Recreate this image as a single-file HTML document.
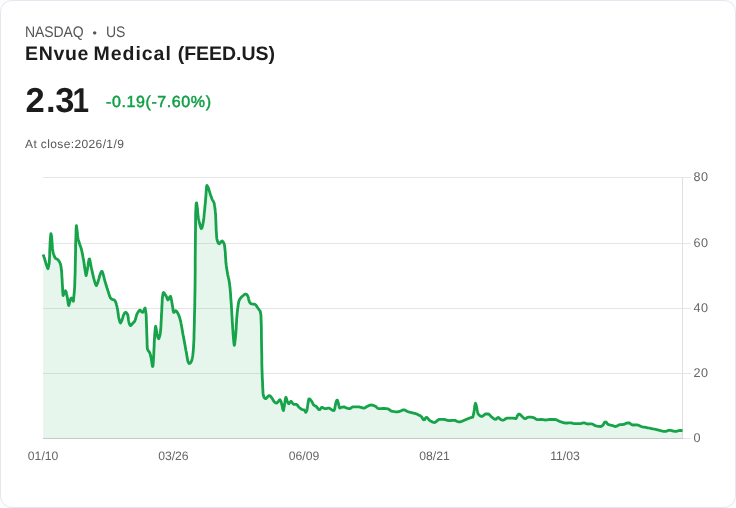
<!DOCTYPE html>
<html>
<head>
<meta charset="utf-8">
<title>ENvue Medical (FEED.US)</title>
<style>
html,body{margin:0;padding:0;background:#fcfcfc;}
body{width:736px;height:508px;overflow:hidden;font-family:"Liberation Sans",sans-serif;position:relative;}
.card{position:absolute;left:0;top:0;width:734px;height:506px;border:1px solid #e2e7f0;border-radius:12px;background:#fff;}
.t{position:absolute;white-space:nowrap;line-height:1;text-rendering:geometricPrecision;}
#exch{left:25px;top:24px;font-size:14px;letter-spacing:-0.1px;color:#555;transform:scaleY(1.09);transform-origin:0 0;}
#dot{position:absolute;left:67.6px;top:2px;font-size:12.5px;letter-spacing:0;transform:scaleY(0.92);}
#us{position:absolute;left:80.9px;top:0;letter-spacing:0px;}
#name{left:25px;top:44.8px;font-size:19.5px;letter-spacing:0.4px;font-weight:bold;color:#1c1c1e;}
#price{left:24.7px;top:84.2px;font-size:34.6px;letter-spacing:-1.1px;font-weight:bold;color:#1c1c1e;}
#n1{letter-spacing:0.65px;}#n1b{letter-spacing:0.95px;margin-left:-1.2px;}#n2{letter-spacing:-0.05px;margin-left:0.2px;}
#price span{position:relative;display:inline-block;}
#p1{left:0.9px;}#p2{left:3.1px;}#p3{left:3.9px;}#p4{left:0.5px;transform:scaleX(0.86);transform-origin:100% 50%;}
#chg{left:106px;top:95px;font-size:16px;letter-spacing:0.6px;color:#12a046;-webkit-text-stroke:0.5px #12a046;}
#close{left:25px;top:137.7px;font-size:12px;letter-spacing:0.38px;color:#555;}
svg{position:absolute;left:0;top:0;}
svg text{text-rendering:geometricPrecision;font-family:"Liberation Sans",sans-serif;fill:#666;}
#ylab text{font-size:12.6px;}
#xlab text{font-size:12.2px;}
</style>
</head>
<body>
<div class="card"></div>
<div class="t" id="exch"><span id="nq">NASDAQ</span> <span id="dot">•</span> <span id="us">US</span></div>
<div class="t" id="name"><span id="n1">ENvue</span> <span id="n1b">Medical</span> <span id="n2">(FEED.US)</span></div>
<div class="t" id="price"><span id="p1">2</span><span id="p2">.</span><span id="p3">3</span><span id="p4">1</span></div>
<div class="t" id="chg">-0.19(-7.60%)</div>
<div class="t" id="close">At close:2026/1/9</div>
<svg width="736" height="508" viewBox="0 0 736 508">
<g stroke="#e6e6e6" stroke-width="1" shape-rendering="crispEdges">
<line x1="43" y1="177.5" x2="690.5" y2="177.5"/>
<line x1="43" y1="243.5" x2="690.5" y2="243.5"/>
<line x1="43" y1="308.5" x2="690.5" y2="308.5"/>
<line x1="43" y1="373.5" x2="690.5" y2="373.5"/>
<line x1="43" y1="438.5" x2="690.5" y2="438.5"/>
<line x1="682.5" y1="177" x2="682.5" y2="439" stroke="#e0e0e0"/>
</g>
<g id="series">
<path id="area" d="M43.1,254.4 43.5,255.5 43.9,256.7 44.3,257.8 44.7,259 45,260.2 45.4,261.4 45.7,262.5 46,263.6 46.4,264.7 46.8,265.9 47.2,267 47.5,268 48,268.7 49,264.5 49.2,263.3 49.3,262.1 49.4,260.2 49.5,258.5 49.6,256.5 49.7,254.2 49.7,251.8 49.8,249.5 49.9,247.3 50,245.3 50.1,243.6 50.1,242.4 50.2,241.2 50.3,240 50.4,238.8 50.5,237.7 50.6,236.5 50.7,235.4 50.8,234.4 50.9,233.6 51.4,235.2 51.5,236.5 51.7,237.7 51.8,239 51.9,240.1 52,241.6 52.1,242.9 52.2,244.4 52.3,245.7 52.3,247 52.4,248.1 52.5,249 52.7,250.1 52.9,251.2 53.1,252.3 53.4,253.4 53.7,254.4 54.1,255.5 54.5,256.5 55,257.5 55.6,258.4 56.4,258.9 57.4,259.3 58.4,260.2 59.1,261.2 59.8,262.4 60.3,263.7 60.7,265 61,266.5 61.1,267.8 61.3,269 61.4,270.3 61.6,271.5 61.7,272.8 61.8,274.1 61.8,275.3 61.9,276.7 62,278 62.1,279.4 62.2,280.8 62.2,282.2 62.3,283.5 62.4,284.9 62.5,286.5 62.6,288.2 62.6,289.8 62.7,291.4 62.8,292.9 62.9,294.1 63,295.1 63.1,295.6 64.1,293.9 64.6,292.8 65,291.6 65.4,290.7 66.2,292 66.4,293.3 66.7,294.4 66.9,295.7 67.2,296.9 67.4,298.1 67.6,299.3 67.8,300.6 68,301.8 68.1,302.9 68.3,304.1 68.5,305.1 68.8,305.6 69.8,301.8 70.1,300.8 70.4,299.6 70.8,298.6 71.3,298.1 72.3,299.2 73,300.5 73.4,301.2 74.4,290.8 74.5,289.5 74.6,287.9 74.7,286.1 74.8,284 74.8,281.8 74.9,279.3 75,276.7 75.1,274 75.2,271.1 75.2,268 75.3,264.2 75.4,259.9 75.5,255.3 75.6,250.7 75.6,246.4 75.7,242.7 75.8,239.7 75.9,237 76,234.4 76,231.9 76.1,229.6 76.2,227.7 76.3,226.4 76.4,225.6 76.8,228.4 76.9,229.6 77.1,230.7 77.2,231.8 77.3,233 77.5,234.2 77.6,235.4 77.8,236.6 77.9,237.7 78.1,238.7 78.3,239.8 78.6,240.8 79,241.9 79.3,243 79.7,244.2 80.1,245.3 80.5,246.4 80.9,247.6 81.3,248.8 81.6,250.1 81.9,251.3 82.1,252.5 82.3,253.7 82.6,254.9 82.8,256.1 83,257.3 83.3,258.5 83.5,259.7 83.7,260.9 83.9,262.1 84.1,263.4 84.2,264.6 84.4,265.8 84.5,267 84.7,268.1 84.9,269.2 85.1,270.3 85.3,271.6 85.5,272.7 85.7,273.9 85.9,274.9 86.2,275.6 87.2,270.4 87.4,269.3 87.6,268.2 87.8,267 88,265.7 88.1,264.5 88.3,263.4 88.5,262.2 88.7,261.1 88.9,260 89.1,259.1 89.6,259 90.1,261 90.3,262.3 90.5,263.5 90.7,264.6 90.9,265.7 91.2,266.9 91.4,268 91.7,269.2 91.9,270.4 92.2,271.5 92.4,272.7 92.7,273.8 93,275 93.2,276.2 93.5,277.3 93.8,278.5 94.1,279.6 94.4,280.7 94.8,281.8 95.1,283 95.5,284 95.9,285 96.4,285.6 97.4,283.7 97.8,282.5 98.1,281.4 98.4,280.3 98.8,279.1 99.1,277.9 99.4,276.7 99.8,275.6 100.1,274.5 100.5,273.5 101,272.4 101.5,271.5 102.2,271.5 102.8,273.2 103.2,274.4 103.5,275.5 103.8,276.7 104.2,277.9 104.4,279.1 104.7,280.2 105,281.4 105.4,282.5 105.7,283.6 106,284.8 106.4,285.9 106.7,287 107.1,288.2 107.5,289.3 107.8,290.4 108.2,291.6 108.6,292.8 108.9,293.9 109.3,295 109.6,296.1 110.1,297.2 110.5,298 111.3,298.8 112.2,299.4 113.2,299.7 114.2,299.9 115.2,301.1 115.7,302.3 116.2,303.6 116.5,304.8 116.9,306.1 117.1,307.3 117.4,308.6 117.6,309.8 117.8,311 118,312.2 118.1,313.5 118.3,314.7 118.5,315.8 118.6,316.9 118.8,317.9 119.1,319.1 119.4,320.2 119.7,321.3 120,322.3 120.5,323 121.4,321.6 121.8,320.5 122.2,319.4 122.6,318.1 122.9,317 123.2,315.9 123.6,315 124.1,313.9 124.7,313 125.3,312.3 126.3,312.6 127.2,313.8 127.8,315 128.2,317.5 128.4,318.8 128.5,319.9 128.7,321.1 128.9,322.1 129.1,322.9 129.5,324 130,325 130.5,325.6 131.5,324.8 132.3,323.8 133,323 133.8,322.2 134.7,321.2 135.3,319.8 135.7,318.5 136,317.3 136.3,316.2 136.6,315.1 137,314.1 137.5,313.1 138.1,312.1 138.7,311.2 139.4,310.3 140.2,310.1 141.2,311.4 141.9,312.2 142.8,312.3 143.6,310.9 144.1,309.7 144.6,308.6 145.1,308.1 146,313.5 146.1,314.7 146.2,316.2 146.3,317.9 146.3,319.9 146.4,322.1 146.5,324.5 146.6,326.8 146.7,329.1 146.7,331.2 146.8,333.7 146.9,336.4 147,339.1 147.1,341.8 147.1,344.2 147.2,346.3 147.3,347.8 147.4,348.7 147.6,349.4 148,350.2 148.6,351.2 149.3,352 150,353.4 150.4,354.8 150.7,356 150.9,357.2 151.2,358.4 151.4,359.7 151.6,361 151.8,362.2 152,363.4 152.1,364.5 152.3,365.6 152.5,366.5 152.9,366.4 153.1,364.6 153.2,363.3 153.3,362.1 153.4,360.8 153.4,359.6 153.5,358.3 153.6,357.1 153.7,355.7 153.8,354.2 153.8,352.5 153.9,350.7 154,348.8 154.1,346.9 154.2,345 154.2,343.2 154.3,341.6 154.4,340.1 154.5,338.7 154.6,337.3 154.6,335.9 154.7,334.6 154.8,333.4 154.9,332.3 155,331.2 155.1,330.1 155.2,328.9 155.3,327.8 155.5,326.8 155.7,326.3 156.7,331.7 156.9,333 157.1,334.2 157.3,335.3 157.5,336.2 157.8,337.3 158.3,338.2 158.8,338.7 159.8,335.8 160.1,334.6 160.3,333.2 160.4,331.9 160.6,330.6 160.7,329.4 160.8,328.1 160.9,326.8 161,325.5 161,324 161.1,322.4 161.2,320.8 161.3,319.1 161.4,317.5 161.4,315.9 161.5,314.5 161.6,312.9 161.7,311.3 161.8,309.7 161.8,308 161.9,306.4 162,304.8 162.1,303.2 162.2,301.8 162.2,300.5 162.3,299.3 162.4,298.2 162.5,297.3 162.7,296.1 162.8,295 163,293.9 163.2,292.9 163.6,292.5 164.6,293.7 165.3,294.7 165.9,295.7 166.6,296.9 167,298.1 167.4,299.2 167.9,299.9 168.9,298.6 169.3,297.6 169.9,296.8 170.6,296.3 171.6,300.6 171.8,301.9 172,303.2 172.2,304.4 172.4,305.5 172.6,306.6 172.8,307.9 172.9,309.1 173.1,310.2 173.3,311.3 173.6,312.2 174,312.4 175,311.1 175.7,310.6 176.7,311.4 177.4,312.5 178,313.6 178.6,314.8 179.1,316 179.5,317.2 179.8,318.4 180.2,319.6 180.5,320.8 180.8,322 181,323.2 181.3,324.5 181.5,325.7 181.7,326.9 181.9,328.1 182.1,329.2 182.3,330.4 182.5,331.6 182.7,332.7 182.9,333.9 183.1,335.1 183.4,336.3 183.6,337.5 183.8,338.7 184,339.8 184.2,341 184.4,342.2 184.7,343.4 184.9,344.6 185.1,345.7 185.3,346.9 185.5,348.1 185.7,349.3 185.9,350.5 186.2,351.6 186.4,352.8 186.6,354 186.8,355.2 187,356.4 187.2,357.6 187.4,358.8 187.6,359.9 187.8,361 188.1,361.9 188.6,362.8 189.2,363.5 190.2,363.1 191.1,362 191.8,360.3 192.1,359 192.4,357.7 192.6,356.5 192.8,355.2 192.9,353.9 193.1,352.6 193.2,351.4 193.3,350.1 193.4,348.8 193.5,347.6 193.6,346.3 193.6,345 193.7,343.5 193.8,342 193.9,340.1 194,337.7 194,334.9 194.1,331.8 194.2,328.5 194.3,325.1 194.4,321.6 194.4,318.2 194.5,314.9 194.6,311.6 194.7,308.1 194.8,304.4 194.8,300.1 194.9,295.3 195,289.8 195.1,282.1 195.2,271.9 195.2,260.5 195.3,249.3 195.4,239.8 195.5,230.8 195.6,222 195.6,215.2 195.7,212 195.8,210.1 195.9,208.5 196,207 196,205.8 196.1,204.7 196.2,203.7 196.4,202.8 196.6,202.8 196.9,204.8 197.1,206 197.2,207.2 197.3,208.3 197.5,209.7 197.6,210.9 197.7,212.1 197.8,213.3 197.9,214.4 198,215.5 198.1,216.6 198.3,217.7 198.5,218.8 198.8,219.9 199,221 199.3,222.1 199.6,223.3 199.9,224.4 200.2,225.6 200.5,226.7 200.9,227.8 201.3,228.6 202,227.8 202.4,226.4 202.6,225.2 202.9,224.1 203.1,222.8 203.4,221.5 203.5,220.3 203.7,219 203.9,217.7 204,216.5 204.1,215.2 204.2,214 204.3,212.8 204.5,211.6 204.6,210.4 204.7,209.3 204.8,208.1 204.9,206.9 205,205.7 205.2,204.5 205.3,203.3 205.4,202.1 205.5,200.9 205.6,199.6 205.7,198.4 205.8,197.1 205.9,195.9 206,194.7 206.1,193.5 206.1,192.4 206.2,191.2 206.3,190.1 206.4,188.9 206.5,187.7 206.7,186.6 206.8,185.7 207,185.4 208,187.1 208.6,188.5 208.9,189.7 209.3,190.8 209.6,191.9 210,193.1 210.3,194.2 210.7,195.4 211.1,196.5 211.5,197.6 211.9,198.7 212.3,199.6 212.9,200.6 213.5,201.7 214.1,203 214.4,204.5 214.6,205.9 214.8,207.1 214.9,208.3 215.1,209.5 215.2,210.7 215.3,211.9 215.5,213.2 215.6,214.5 215.7,215.9 215.7,217.7 215.8,219.9 215.9,222.2 216,224.6 216.1,226.9 216.1,228.8 216.2,230.2 216.3,231.5 216.4,232.7 216.5,233.9 216.5,235 216.6,236.2 216.7,237.3 216.8,238.4 217,239.4 217.2,240.2 217.5,241.3 217.9,242.3 218.4,243.2 219.1,243.8 220.1,243.1 220.7,242.1 221.5,241.4 222.4,241 223.4,242.3 224,243.5 224.5,245.1 224.7,246.6 224.8,247.9 224.9,249.1 225.1,250.3 225.2,251.5 225.3,252.7 225.4,254 225.4,255.2 225.5,256.5 225.6,257.8 225.7,259 225.8,260.3 225.8,261.4 225.9,262.5 226,263.6 226.2,264.7 226.3,265.9 226.5,267 226.6,268.1 226.8,269.3 227,270.4 227.2,271.6 227.4,272.8 227.6,273.9 227.8,275.1 228.1,276.2 228.3,277.3 228.6,278.5 228.9,279.7 229.1,281 229.3,282.2 229.5,283.5 229.7,284.8 229.8,286.1 229.9,287.3 230.1,288.5 230.2,289.8 230.3,291 230.4,292.2 230.5,293.4 230.6,294.6 230.7,295.8 230.7,297 230.8,298.2 230.9,299.4 231,300.7 231.1,301.9 231.2,303.1 231.3,304.3 231.4,305.6 231.4,306.9 231.5,308.2 231.6,309.5 231.7,310.9 231.8,312.3 231.8,313.7 231.9,315 232,316.4 232.1,317.8 232.2,319.2 232.2,320.5 232.3,321.9 232.4,323.2 232.5,324.5 232.6,325.8 232.6,327 232.7,328.2 232.8,329.4 232.9,330.6 233,331.8 233,333 233.1,334.1 233.2,335.3 233.3,336.5 233.4,337.6 233.5,338.8 233.6,339.9 233.7,341.1 233.8,342.3 234,343.4 234.1,344.5 234.3,345.4 234.6,344.5 234.8,343.1 234.9,341.9 235,340.8 235.2,339.7 235.3,338.5 235.5,337.2 235.6,336 235.7,334.7 235.8,333.4 235.9,332.1 236,330.9 236.1,329.6 236.2,328.3 236.2,326.9 236.3,325.5 236.4,324.1 236.5,322.7 236.6,321.3 236.6,319.9 236.7,318.7 236.8,317.5 236.9,316.3 237,315.2 237.1,314.1 237.2,312.9 237.3,311.8 237.5,310.6 237.6,309.5 237.7,308.3 237.9,307.2 238.1,306 238.2,304.8 238.4,303.7 238.6,302.6 238.8,301.5 239.1,300.6 239.6,299.6 240.1,298.7 240.8,297.8 241.5,297 242.4,296.2 243.3,295.5 244.2,294.7 245.1,294.1 246.1,294.1 247.1,294.9 247.9,296.4 248.4,297.8 248.6,299 248.9,300.2 249.2,301.3 249.5,302 250.1,302.9 250.9,303.6 251.9,303.9 252.9,304.1 253.9,304.2 254.9,304.4 255.9,305.2 256.7,306.2 257.3,307.2 258,308.2 258.7,309.2 259.4,310.1 260.1,310.9 260.9,314.7 261,316.3 261,318 261.1,320.1 261.2,322.2 261.3,325.4 261.4,330.3 261.4,336.1 261.5,342.1 261.6,347.5 261.7,352.3 261.8,357.3 261.8,362.1 261.9,366.3 262,369.7 262.1,372.2 262.2,374.4 262.2,376.3 262.3,378.1 262.4,379.7 262.5,381.4 262.6,383.1 262.6,385 262.7,387 262.8,388.8 262.9,390.5 263,392 263,393.1 263.1,394 263.3,395 263.6,396 263.9,397 264.4,397.8 265.1,398.6 266.1,398.5 267,397.4 267.7,396.7 268.6,395.9 269.6,395.6 270.6,396.4 271.4,397.4 272.1,398.3 272.8,399.5 273.4,400.5 274,401.5 274.7,402.2 275.6,402.8 276.6,403.1 277.6,402.2 278.4,401.4 279.2,400.3 280,399.8 281,401.4 281.4,403 281.7,404.2 282,405.3 282.3,406.6 282.5,407.8 282.7,408.9 283,409.9 283.4,410.6 284.4,405.7 284.5,404.5 284.6,403.4 284.8,402.4 285,401.2 285.2,400 285.4,398.9 285.6,397.9 286,397.3 287,400.4 287.3,401.3 287.8,402.4 288.3,403.4 289,403.7 290,402.4 290.6,401.5 291.4,401.5 292.2,402.7 292.9,403.6 293.6,404.4 294.6,404.4 295.6,404.4 296.6,404.5 297.6,405.4 298.3,406.4 299,407.3 299.8,408 300.7,408.8 301.7,409.3 302.7,409.6 303.7,409.8 304.7,410.3 305.3,411.6 305.8,412.4 306.8,410.7 307.1,409.3 307.3,407.9 307.5,406.7 307.6,405.6 307.8,404.6 308,403.4 308.2,402.2 308.4,401 308.6,400 308.9,399 309.3,398.8 310.3,399.5 311.1,400.5 311.9,401.7 312.5,402.8 313,403.9 313.5,404.8 314.3,405.4 315.3,405.9 316.3,406.5 317.2,407.6 317.9,408.6 318.7,409.4 319.6,409.7 320.6,408.6 321.2,407.7 322,407.3 323,407.7 324,408.4 325,408.7 326,408.6 327,408.4 328,408.2 329,408.1 330,408.6 331,409.3 332,409.9 333,410.4 334,410.5 334.8,408.6 335.1,406.6 335.3,405.4 335.5,404.3 335.7,403.5 336,402.3 336.4,401.3 336.8,400.4 337.4,400.2 338.1,402.2 338.3,403.4 338.6,404.5 338.9,405.6 339.2,406.8 339.5,407.8 340,408.1 341,407.5 342,407.2 343,407 344,406.9 345,407.2 346,407.7 347,408.1 348,408.5 349,408.7 350,408.6 351,408 351.9,407.3 352.9,406.9 353.9,406.9 354.9,406.9 355.9,406.9 356.9,406.9 357.9,406.9 358.9,406.9 359.9,407.1 360.9,407.4 361.9,407.7 362.9,408 363.9,408.1 364.9,407.8 365.9,407.2 366.9,406.5 367.9,406.1 368.9,405.6 369.9,405.2 370.9,405 371.9,405 372.9,405.3 373.9,405.6 374.9,406 375.9,406.6 376.8,407.5 377.7,408.3 378.6,408.7 379.6,408.7 380.6,408.7 381.6,408.6 382.6,408.5 383.6,408.5 384.6,408.5 385.6,408.6 386.6,408.7 387.6,408.9 388.6,409.2 389.6,409.9 390.6,410.7 391.6,411.1 392.6,411.3 393.6,411.5 394.6,411.7 395.6,411.8 396.6,411.9 397.6,411.9 398.6,411.6 399.6,411.3 400.6,411 401.6,410.6 402.6,410.1 403.6,409.8 404.6,409.9 405.6,410.5 406.6,411.1 407.6,411.5 408.6,411.8 409.6,412.1 410.6,412.3 411.6,412.6 412.6,412.8 413.6,413.1 414.6,413.4 415.6,413.7 416.6,414 417.6,414.4 418.6,414.9 419.6,415.4 420.6,416 421.6,416.8 422.3,418 422.9,419 423.6,419.8 424.5,419.7 425.3,418.5 425.9,417.6 426.7,417.3 427.7,418.2 428.5,419.2 429.2,420.1 430.1,420.7 431.1,421.3 432.1,421.9 433.1,422.3 434.1,422.5 435.1,422.4 436.1,421.7 437,420.9 437.9,420.1 438.8,419.5 439.8,419.4 440.8,419.4 441.8,419.4 442.8,419.4 443.8,419.4 444.8,419.5 445.8,419.8 446.8,420.2 447.8,420.5 448.8,420.6 449.8,420.6 450.8,420.5 451.8,420.4 452.8,420.3 453.8,420.3 454.8,420.4 455.8,420.7 456.8,421.2 457.8,421.6 458.8,421.8 459.8,421.9 460.8,421.6 461.8,421.3 462.8,420.9 463.8,420.5 464.8,420 465.8,419.6 466.8,419.2 467.8,418.8 468.8,418.4 469.8,418 470.8,417.7 471.8,417.4 472.8,417.1 473.8,413.2 474,412 474.1,410.8 474.3,409.7 474.4,408.6 474.6,407.3 474.8,406.1 475,405 475.2,404 475.5,403.2 476.2,405.1 476.4,406.4 476.7,407.5 476.9,408.6 477.1,409.8 477.4,411 477.6,412.1 477.9,413.2 478.2,413.9 478.9,414.8 479.7,415.6 480.6,416.2 481.6,416.5 482.6,416.2 483.6,415.4 484.5,414.6 485.4,414 486.4,414 487.4,414 488.4,414 489.4,414.7 490.3,415.6 491.1,416.5 491.9,417.2 492.9,418 493.8,418.7 494.8,419.2 495.8,419.4 496.8,418.5 497.6,417.6 498.5,417.5 499.5,418.4 500.3,419.2 501.3,419.7 502.3,420.1 503.3,420.2 504.3,419.8 505.2,419 506.2,418.3 507.2,418.1 508.2,418.1 509.2,418.1 510.2,418.1 511.2,418.1 512.2,418.1 513.2,418.2 514.2,418.3 515.2,418.5 516.2,418.5 517.2,416.4 517.5,415.5 518.2,414.6 518.9,414 519.9,414.4 520.9,415.3 521.7,416.1 522.6,417 523.5,417.8 524.3,418.5 525.3,418.7 526.3,418.2 527.3,417.5 528.3,417.2 529.3,417.2 530.3,417.2 531.3,417.2 532.3,417.3 533.3,417.6 534.3,418.1 535.3,418.6 536.3,419.3 537.3,419.7 538.3,419.7 539.3,419.6 540.3,419.5 541.3,419.4 542.3,419.5 543.3,419.7 544.3,419.9 545.3,420 546.3,419.9 547.3,419.8 548.3,419.6 549.3,419.5 550.3,419.5 551.3,419.5 552.3,419.5 553.3,419.5 554.3,419.5 555.3,419.5 556.3,419.7 557.3,420.2 558.3,420.7 559.3,421.2 560.3,421.6 561.3,421.9 562.3,422.3 563.3,422.6 564.3,422.9 565.3,423 566.3,423.1 567.3,423 568.3,422.9 569.3,422.8 570.3,422.8 571.3,422.9 572.3,423.2 573.3,423.5 574.3,423.7 575.3,423.7 576.3,423.7 577.3,423.7 578.3,423.7 579.3,423.6 580.3,423.6 581.3,423.4 582.3,423.1 583.3,422.9 584.3,422.9 585.3,423.2 586.3,423.6 587.3,423.9 588.3,424 589.3,423.9 590.3,423.8 591.3,423.8 592.3,424 593.3,424.5 594.3,425.1 595.3,425.7 596.3,426 597.3,426.2 598.3,426.3 599.3,426.4 600.3,426.5 601.3,426.4 602.3,425.7 603.2,424.9 603.9,423.4 604.4,422.5 605.2,422 606.2,422.2 607.1,423.3 607.8,424.2 608.7,424.6 609.7,424.9 610.7,425.2 611.7,425.4 612.7,425.7 613.7,426 614.7,426.4 615.7,426.5 616.7,426.2 617.7,425.6 618.7,425 619.7,424.7 620.7,424.6 621.7,424.6 622.7,424.5 623.7,424.4 624.7,424.1 625.7,423.6 626.7,423.1 627.7,423 628.7,422.9 629.7,423.2 630.7,424 631.6,424.7 632.6,425 633.6,425 634.6,425 635.6,424.9 636.6,424.9 637.6,425 638.6,425.3 639.6,425.7 640.6,426.2 641.6,426.6 642.6,426.9 643.6,427.1 644.6,427.2 645.6,427.4 646.6,427.6 647.6,427.8 648.6,428 649.6,428.2 650.6,428.4 651.6,428.6 652.6,428.8 653.6,429 654.6,429.2 655.6,429.4 656.6,429.6 657.6,429.8 658.6,430.1 659.6,430.4 660.6,430.6 661.6,430.9 662.6,431.1 663.6,431.3 664.6,431.4 665.6,431.3 666.6,431.1 667.6,430.7 668.6,430.4 669.6,430.3 670.6,430.4 671.6,430.6 672.6,430.9 673.6,431.2 674.6,431.4 675.6,431.4 676.6,431.3 677.6,431 678.6,430.7 679.6,430.5 680.6,430.5 681.6,430.5 682.5,430.5 L682.5,438.5 L43.1,438.5Z" fill="#16a34a" fill-opacity="0.1"/>
<path id="line" d="M43.1,254.4 43.5,255.5 43.9,256.7 44.3,257.8 44.7,259 45,260.2 45.4,261.4 45.7,262.5 46,263.6 46.4,264.7 46.8,265.9 47.2,267 47.5,268 48,268.7 49,264.5 49.2,263.3 49.3,262.1 49.4,260.2 49.5,258.5 49.6,256.5 49.7,254.2 49.7,251.8 49.8,249.5 49.9,247.3 50,245.3 50.1,243.6 50.1,242.4 50.2,241.2 50.3,240 50.4,238.8 50.5,237.7 50.6,236.5 50.7,235.4 50.8,234.4 50.9,233.6 51.4,235.2 51.5,236.5 51.7,237.7 51.8,239 51.9,240.1 52,241.6 52.1,242.9 52.2,244.4 52.3,245.7 52.3,247 52.4,248.1 52.5,249 52.7,250.1 52.9,251.2 53.1,252.3 53.4,253.4 53.7,254.4 54.1,255.5 54.5,256.5 55,257.5 55.6,258.4 56.4,258.9 57.4,259.3 58.4,260.2 59.1,261.2 59.8,262.4 60.3,263.7 60.7,265 61,266.5 61.1,267.8 61.3,269 61.4,270.3 61.6,271.5 61.7,272.8 61.8,274.1 61.8,275.3 61.9,276.7 62,278 62.1,279.4 62.2,280.8 62.2,282.2 62.3,283.5 62.4,284.9 62.5,286.5 62.6,288.2 62.6,289.8 62.7,291.4 62.8,292.9 62.9,294.1 63,295.1 63.1,295.6 64.1,293.9 64.6,292.8 65,291.6 65.4,290.7 66.2,292 66.4,293.3 66.7,294.4 66.9,295.7 67.2,296.9 67.4,298.1 67.6,299.3 67.8,300.6 68,301.8 68.1,302.9 68.3,304.1 68.5,305.1 68.8,305.6 69.8,301.8 70.1,300.8 70.4,299.6 70.8,298.6 71.3,298.1 72.3,299.2 73,300.5 73.4,301.2 74.4,290.8 74.5,289.5 74.6,287.9 74.7,286.1 74.8,284 74.8,281.8 74.9,279.3 75,276.7 75.1,274 75.2,271.1 75.2,268 75.3,264.2 75.4,259.9 75.5,255.3 75.6,250.7 75.6,246.4 75.7,242.7 75.8,239.7 75.9,237 76,234.4 76,231.9 76.1,229.6 76.2,227.7 76.3,226.4 76.4,225.6 76.8,228.4 76.9,229.6 77.1,230.7 77.2,231.8 77.3,233 77.5,234.2 77.6,235.4 77.8,236.6 77.9,237.7 78.1,238.7 78.3,239.8 78.6,240.8 79,241.9 79.3,243 79.7,244.2 80.1,245.3 80.5,246.4 80.9,247.6 81.3,248.8 81.6,250.1 81.9,251.3 82.1,252.5 82.3,253.7 82.6,254.9 82.8,256.1 83,257.3 83.3,258.5 83.5,259.7 83.7,260.9 83.9,262.1 84.1,263.4 84.2,264.6 84.4,265.8 84.5,267 84.7,268.1 84.9,269.2 85.1,270.3 85.3,271.6 85.5,272.7 85.7,273.9 85.9,274.9 86.2,275.6 87.2,270.4 87.4,269.3 87.6,268.2 87.8,267 88,265.7 88.1,264.5 88.3,263.4 88.5,262.2 88.7,261.1 88.9,260 89.1,259.1 89.6,259 90.1,261 90.3,262.3 90.5,263.5 90.7,264.6 90.9,265.7 91.2,266.9 91.4,268 91.7,269.2 91.9,270.4 92.2,271.5 92.4,272.7 92.7,273.8 93,275 93.2,276.2 93.5,277.3 93.8,278.5 94.1,279.6 94.4,280.7 94.8,281.8 95.1,283 95.5,284 95.9,285 96.4,285.6 97.4,283.7 97.8,282.5 98.1,281.4 98.4,280.3 98.8,279.1 99.1,277.9 99.4,276.7 99.8,275.6 100.1,274.5 100.5,273.5 101,272.4 101.5,271.5 102.2,271.5 102.8,273.2 103.2,274.4 103.5,275.5 103.8,276.7 104.2,277.9 104.4,279.1 104.7,280.2 105,281.4 105.4,282.5 105.7,283.6 106,284.8 106.4,285.9 106.7,287 107.1,288.2 107.5,289.3 107.8,290.4 108.2,291.6 108.6,292.8 108.9,293.9 109.3,295 109.6,296.1 110.1,297.2 110.5,298 111.3,298.8 112.2,299.4 113.2,299.7 114.2,299.9 115.2,301.1 115.7,302.3 116.2,303.6 116.5,304.8 116.9,306.1 117.1,307.3 117.4,308.6 117.6,309.8 117.8,311 118,312.2 118.1,313.5 118.3,314.7 118.5,315.8 118.6,316.9 118.8,317.9 119.1,319.1 119.4,320.2 119.7,321.3 120,322.3 120.5,323 121.4,321.6 121.8,320.5 122.2,319.4 122.6,318.1 122.9,317 123.2,315.9 123.6,315 124.1,313.9 124.7,313 125.3,312.3 126.3,312.6 127.2,313.8 127.8,315 128.2,317.5 128.4,318.8 128.5,319.9 128.7,321.1 128.9,322.1 129.1,322.9 129.5,324 130,325 130.5,325.6 131.5,324.8 132.3,323.8 133,323 133.8,322.2 134.7,321.2 135.3,319.8 135.7,318.5 136,317.3 136.3,316.2 136.6,315.1 137,314.1 137.5,313.1 138.1,312.1 138.7,311.2 139.4,310.3 140.2,310.1 141.2,311.4 141.9,312.2 142.8,312.3 143.6,310.9 144.1,309.7 144.6,308.6 145.1,308.1 146,313.5 146.1,314.7 146.2,316.2 146.3,317.9 146.3,319.9 146.4,322.1 146.5,324.5 146.6,326.8 146.7,329.1 146.7,331.2 146.8,333.7 146.9,336.4 147,339.1 147.1,341.8 147.1,344.2 147.2,346.3 147.3,347.8 147.4,348.7 147.6,349.4 148,350.2 148.6,351.2 149.3,352 150,353.4 150.4,354.8 150.7,356 150.9,357.2 151.2,358.4 151.4,359.7 151.6,361 151.8,362.2 152,363.4 152.1,364.5 152.3,365.6 152.5,366.5 152.9,366.4 153.1,364.6 153.2,363.3 153.3,362.1 153.4,360.8 153.4,359.6 153.5,358.3 153.6,357.1 153.7,355.7 153.8,354.2 153.8,352.5 153.9,350.7 154,348.8 154.1,346.9 154.2,345 154.2,343.2 154.3,341.6 154.4,340.1 154.5,338.7 154.6,337.3 154.6,335.9 154.7,334.6 154.8,333.4 154.9,332.3 155,331.2 155.1,330.1 155.2,328.9 155.3,327.8 155.5,326.8 155.7,326.3 156.7,331.7 156.9,333 157.1,334.2 157.3,335.3 157.5,336.2 157.8,337.3 158.3,338.2 158.8,338.7 159.8,335.8 160.1,334.6 160.3,333.2 160.4,331.9 160.6,330.6 160.7,329.4 160.8,328.1 160.9,326.8 161,325.5 161,324 161.1,322.4 161.2,320.8 161.3,319.1 161.4,317.5 161.4,315.9 161.5,314.5 161.6,312.9 161.7,311.3 161.8,309.7 161.8,308 161.9,306.4 162,304.8 162.1,303.2 162.2,301.8 162.2,300.5 162.3,299.3 162.4,298.2 162.5,297.3 162.7,296.1 162.8,295 163,293.9 163.2,292.9 163.6,292.5 164.6,293.7 165.3,294.7 165.9,295.7 166.6,296.9 167,298.1 167.4,299.2 167.9,299.9 168.9,298.6 169.3,297.6 169.9,296.8 170.6,296.3 171.6,300.6 171.8,301.9 172,303.2 172.2,304.4 172.4,305.5 172.6,306.6 172.8,307.9 172.9,309.1 173.1,310.2 173.3,311.3 173.6,312.2 174,312.4 175,311.1 175.7,310.6 176.7,311.4 177.4,312.5 178,313.6 178.6,314.8 179.1,316 179.5,317.2 179.8,318.4 180.2,319.6 180.5,320.8 180.8,322 181,323.2 181.3,324.5 181.5,325.7 181.7,326.9 181.9,328.1 182.1,329.2 182.3,330.4 182.5,331.6 182.7,332.7 182.9,333.9 183.1,335.1 183.4,336.3 183.6,337.5 183.8,338.7 184,339.8 184.2,341 184.4,342.2 184.7,343.4 184.9,344.6 185.1,345.7 185.3,346.9 185.5,348.1 185.7,349.3 185.9,350.5 186.2,351.6 186.4,352.8 186.6,354 186.8,355.2 187,356.4 187.2,357.6 187.4,358.8 187.6,359.9 187.8,361 188.1,361.9 188.6,362.8 189.2,363.5 190.2,363.1 191.1,362 191.8,360.3 192.1,359 192.4,357.7 192.6,356.5 192.8,355.2 192.9,353.9 193.1,352.6 193.2,351.4 193.3,350.1 193.4,348.8 193.5,347.6 193.6,346.3 193.6,345 193.7,343.5 193.8,342 193.9,340.1 194,337.7 194,334.9 194.1,331.8 194.2,328.5 194.3,325.1 194.4,321.6 194.4,318.2 194.5,314.9 194.6,311.6 194.7,308.1 194.8,304.4 194.8,300.1 194.9,295.3 195,289.8 195.1,282.1 195.2,271.9 195.2,260.5 195.3,249.3 195.4,239.8 195.5,230.8 195.6,222 195.6,215.2 195.7,212 195.8,210.1 195.9,208.5 196,207 196,205.8 196.1,204.7 196.2,203.7 196.4,202.8 196.6,202.8 196.9,204.8 197.1,206 197.2,207.2 197.3,208.3 197.5,209.7 197.6,210.9 197.7,212.1 197.8,213.3 197.9,214.4 198,215.5 198.1,216.6 198.3,217.7 198.5,218.8 198.8,219.9 199,221 199.3,222.1 199.6,223.3 199.9,224.4 200.2,225.6 200.5,226.7 200.9,227.8 201.3,228.6 202,227.8 202.4,226.4 202.6,225.2 202.9,224.1 203.1,222.8 203.4,221.5 203.5,220.3 203.7,219 203.9,217.7 204,216.5 204.1,215.2 204.2,214 204.3,212.8 204.5,211.6 204.6,210.4 204.7,209.3 204.8,208.1 204.9,206.9 205,205.7 205.2,204.5 205.3,203.3 205.4,202.1 205.5,200.9 205.6,199.6 205.7,198.4 205.8,197.1 205.9,195.9 206,194.7 206.1,193.5 206.1,192.4 206.2,191.2 206.3,190.1 206.4,188.9 206.5,187.7 206.7,186.6 206.8,185.7 207,185.4 208,187.1 208.6,188.5 208.9,189.7 209.3,190.8 209.6,191.9 210,193.1 210.3,194.2 210.7,195.4 211.1,196.5 211.5,197.6 211.9,198.7 212.3,199.6 212.9,200.6 213.5,201.7 214.1,203 214.4,204.5 214.6,205.9 214.8,207.1 214.9,208.3 215.1,209.5 215.2,210.7 215.3,211.9 215.5,213.2 215.6,214.5 215.7,215.9 215.7,217.7 215.8,219.9 215.9,222.2 216,224.6 216.1,226.9 216.1,228.8 216.2,230.2 216.3,231.5 216.4,232.7 216.5,233.9 216.5,235 216.6,236.2 216.7,237.3 216.8,238.4 217,239.4 217.2,240.2 217.5,241.3 217.9,242.3 218.4,243.2 219.1,243.8 220.1,243.1 220.7,242.1 221.5,241.4 222.4,241 223.4,242.3 224,243.5 224.5,245.1 224.7,246.6 224.8,247.9 224.9,249.1 225.1,250.3 225.2,251.5 225.3,252.7 225.4,254 225.4,255.2 225.5,256.5 225.6,257.8 225.7,259 225.8,260.3 225.8,261.4 225.9,262.5 226,263.6 226.2,264.7 226.3,265.9 226.5,267 226.6,268.1 226.8,269.3 227,270.4 227.2,271.6 227.4,272.8 227.6,273.9 227.8,275.1 228.1,276.2 228.3,277.3 228.6,278.5 228.9,279.7 229.1,281 229.3,282.2 229.5,283.5 229.7,284.8 229.8,286.1 229.9,287.3 230.1,288.5 230.2,289.8 230.3,291 230.4,292.2 230.5,293.4 230.6,294.6 230.7,295.8 230.7,297 230.8,298.2 230.9,299.4 231,300.7 231.1,301.9 231.2,303.1 231.3,304.3 231.4,305.6 231.4,306.9 231.5,308.2 231.6,309.5 231.7,310.9 231.8,312.3 231.8,313.7 231.9,315 232,316.4 232.1,317.8 232.2,319.2 232.2,320.5 232.3,321.9 232.4,323.2 232.5,324.5 232.6,325.8 232.6,327 232.7,328.2 232.8,329.4 232.9,330.6 233,331.8 233,333 233.1,334.1 233.2,335.3 233.3,336.5 233.4,337.6 233.5,338.8 233.6,339.9 233.7,341.1 233.8,342.3 234,343.4 234.1,344.5 234.3,345.4 234.6,344.5 234.8,343.1 234.9,341.9 235,340.8 235.2,339.7 235.3,338.5 235.5,337.2 235.6,336 235.7,334.7 235.8,333.4 235.9,332.1 236,330.9 236.1,329.6 236.2,328.3 236.2,326.9 236.3,325.5 236.4,324.1 236.5,322.7 236.6,321.3 236.6,319.9 236.7,318.7 236.8,317.5 236.9,316.3 237,315.2 237.1,314.1 237.2,312.9 237.3,311.8 237.5,310.6 237.6,309.5 237.7,308.3 237.9,307.2 238.1,306 238.2,304.8 238.4,303.7 238.6,302.6 238.8,301.5 239.1,300.6 239.6,299.6 240.1,298.7 240.8,297.8 241.5,297 242.4,296.2 243.3,295.5 244.2,294.7 245.1,294.1 246.1,294.1 247.1,294.9 247.9,296.4 248.4,297.8 248.6,299 248.9,300.2 249.2,301.3 249.5,302 250.1,302.9 250.9,303.6 251.9,303.9 252.9,304.1 253.9,304.2 254.9,304.4 255.9,305.2 256.7,306.2 257.3,307.2 258,308.2 258.7,309.2 259.4,310.1 260.1,310.9 260.9,314.7 261,316.3 261,318 261.1,320.1 261.2,322.2 261.3,325.4 261.4,330.3 261.4,336.1 261.5,342.1 261.6,347.5 261.7,352.3 261.8,357.3 261.8,362.1 261.9,366.3 262,369.7 262.1,372.2 262.2,374.4 262.2,376.3 262.3,378.1 262.4,379.7 262.5,381.4 262.6,383.1 262.6,385 262.7,387 262.8,388.8 262.9,390.5 263,392 263,393.1 263.1,394 263.3,395 263.6,396 263.9,397 264.4,397.8 265.1,398.6 266.1,398.5 267,397.4 267.7,396.7 268.6,395.9 269.6,395.6 270.6,396.4 271.4,397.4 272.1,398.3 272.8,399.5 273.4,400.5 274,401.5 274.7,402.2 275.6,402.8 276.6,403.1 277.6,402.2 278.4,401.4 279.2,400.3 280,399.8 281,401.4 281.4,403 281.7,404.2 282,405.3 282.3,406.6 282.5,407.8 282.7,408.9 283,409.9 283.4,410.6 284.4,405.7 284.5,404.5 284.6,403.4 284.8,402.4 285,401.2 285.2,400 285.4,398.9 285.6,397.9 286,397.3 287,400.4 287.3,401.3 287.8,402.4 288.3,403.4 289,403.7 290,402.4 290.6,401.5 291.4,401.5 292.2,402.7 292.9,403.6 293.6,404.4 294.6,404.4 295.6,404.4 296.6,404.5 297.6,405.4 298.3,406.4 299,407.3 299.8,408 300.7,408.8 301.7,409.3 302.7,409.6 303.7,409.8 304.7,410.3 305.3,411.6 305.8,412.4 306.8,410.7 307.1,409.3 307.3,407.9 307.5,406.7 307.6,405.6 307.8,404.6 308,403.4 308.2,402.2 308.4,401 308.6,400 308.9,399 309.3,398.8 310.3,399.5 311.1,400.5 311.9,401.7 312.5,402.8 313,403.9 313.5,404.8 314.3,405.4 315.3,405.9 316.3,406.5 317.2,407.6 317.9,408.6 318.7,409.4 319.6,409.7 320.6,408.6 321.2,407.7 322,407.3 323,407.7 324,408.4 325,408.7 326,408.6 327,408.4 328,408.2 329,408.1 330,408.6 331,409.3 332,409.9 333,410.4 334,410.5 334.8,408.6 335.1,406.6 335.3,405.4 335.5,404.3 335.7,403.5 336,402.3 336.4,401.3 336.8,400.4 337.4,400.2 338.1,402.2 338.3,403.4 338.6,404.5 338.9,405.6 339.2,406.8 339.5,407.8 340,408.1 341,407.5 342,407.2 343,407 344,406.9 345,407.2 346,407.7 347,408.1 348,408.5 349,408.7 350,408.6 351,408 351.9,407.3 352.9,406.9 353.9,406.9 354.9,406.9 355.9,406.9 356.9,406.9 357.9,406.9 358.9,406.9 359.9,407.1 360.9,407.4 361.9,407.7 362.9,408 363.9,408.1 364.9,407.8 365.9,407.2 366.9,406.5 367.9,406.1 368.9,405.6 369.9,405.2 370.9,405 371.9,405 372.9,405.3 373.9,405.6 374.9,406 375.9,406.6 376.8,407.5 377.7,408.3 378.6,408.7 379.6,408.7 380.6,408.7 381.6,408.6 382.6,408.5 383.6,408.5 384.6,408.5 385.6,408.6 386.6,408.7 387.6,408.9 388.6,409.2 389.6,409.9 390.6,410.7 391.6,411.1 392.6,411.3 393.6,411.5 394.6,411.7 395.6,411.8 396.6,411.9 397.6,411.9 398.6,411.6 399.6,411.3 400.6,411 401.6,410.6 402.6,410.1 403.6,409.8 404.6,409.9 405.6,410.5 406.6,411.1 407.6,411.5 408.6,411.8 409.6,412.1 410.6,412.3 411.6,412.6 412.6,412.8 413.6,413.1 414.6,413.4 415.6,413.7 416.6,414 417.6,414.4 418.6,414.9 419.6,415.4 420.6,416 421.6,416.8 422.3,418 422.9,419 423.6,419.8 424.5,419.7 425.3,418.5 425.9,417.6 426.7,417.3 427.7,418.2 428.5,419.2 429.2,420.1 430.1,420.7 431.1,421.3 432.1,421.9 433.1,422.3 434.1,422.5 435.1,422.4 436.1,421.7 437,420.9 437.9,420.1 438.8,419.5 439.8,419.4 440.8,419.4 441.8,419.4 442.8,419.4 443.8,419.4 444.8,419.5 445.8,419.8 446.8,420.2 447.8,420.5 448.8,420.6 449.8,420.6 450.8,420.5 451.8,420.4 452.8,420.3 453.8,420.3 454.8,420.4 455.8,420.7 456.8,421.2 457.8,421.6 458.8,421.8 459.8,421.9 460.8,421.6 461.8,421.3 462.8,420.9 463.8,420.5 464.8,420 465.8,419.6 466.8,419.2 467.8,418.8 468.8,418.4 469.8,418 470.8,417.7 471.8,417.4 472.8,417.1 473.8,413.2 474,412 474.1,410.8 474.3,409.7 474.4,408.6 474.6,407.3 474.8,406.1 475,405 475.2,404 475.5,403.2 476.2,405.1 476.4,406.4 476.7,407.5 476.9,408.6 477.1,409.8 477.4,411 477.6,412.1 477.9,413.2 478.2,413.9 478.9,414.8 479.7,415.6 480.6,416.2 481.6,416.5 482.6,416.2 483.6,415.4 484.5,414.6 485.4,414 486.4,414 487.4,414 488.4,414 489.4,414.7 490.3,415.6 491.1,416.5 491.9,417.2 492.9,418 493.8,418.7 494.8,419.2 495.8,419.4 496.8,418.5 497.6,417.6 498.5,417.5 499.5,418.4 500.3,419.2 501.3,419.7 502.3,420.1 503.3,420.2 504.3,419.8 505.2,419 506.2,418.3 507.2,418.1 508.2,418.1 509.2,418.1 510.2,418.1 511.2,418.1 512.2,418.1 513.2,418.2 514.2,418.3 515.2,418.5 516.2,418.5 517.2,416.4 517.5,415.5 518.2,414.6 518.9,414 519.9,414.4 520.9,415.3 521.7,416.1 522.6,417 523.5,417.8 524.3,418.5 525.3,418.7 526.3,418.2 527.3,417.5 528.3,417.2 529.3,417.2 530.3,417.2 531.3,417.2 532.3,417.3 533.3,417.6 534.3,418.1 535.3,418.6 536.3,419.3 537.3,419.7 538.3,419.7 539.3,419.6 540.3,419.5 541.3,419.4 542.3,419.5 543.3,419.7 544.3,419.9 545.3,420 546.3,419.9 547.3,419.8 548.3,419.6 549.3,419.5 550.3,419.5 551.3,419.5 552.3,419.5 553.3,419.5 554.3,419.5 555.3,419.5 556.3,419.7 557.3,420.2 558.3,420.7 559.3,421.2 560.3,421.6 561.3,421.9 562.3,422.3 563.3,422.6 564.3,422.9 565.3,423 566.3,423.1 567.3,423 568.3,422.9 569.3,422.8 570.3,422.8 571.3,422.9 572.3,423.2 573.3,423.5 574.3,423.7 575.3,423.7 576.3,423.7 577.3,423.7 578.3,423.7 579.3,423.6 580.3,423.6 581.3,423.4 582.3,423.1 583.3,422.9 584.3,422.9 585.3,423.2 586.3,423.6 587.3,423.9 588.3,424 589.3,423.9 590.3,423.8 591.3,423.8 592.3,424 593.3,424.5 594.3,425.1 595.3,425.7 596.3,426 597.3,426.2 598.3,426.3 599.3,426.4 600.3,426.5 601.3,426.4 602.3,425.7 603.2,424.9 603.9,423.4 604.4,422.5 605.2,422 606.2,422.2 607.1,423.3 607.8,424.2 608.7,424.6 609.7,424.9 610.7,425.2 611.7,425.4 612.7,425.7 613.7,426 614.7,426.4 615.7,426.5 616.7,426.2 617.7,425.6 618.7,425 619.7,424.7 620.7,424.6 621.7,424.6 622.7,424.5 623.7,424.4 624.7,424.1 625.7,423.6 626.7,423.1 627.7,423 628.7,422.9 629.7,423.2 630.7,424 631.6,424.7 632.6,425 633.6,425 634.6,425 635.6,424.9 636.6,424.9 637.6,425 638.6,425.3 639.6,425.7 640.6,426.2 641.6,426.6 642.6,426.9 643.6,427.1 644.6,427.2 645.6,427.4 646.6,427.6 647.6,427.8 648.6,428 649.6,428.2 650.6,428.4 651.6,428.6 652.6,428.8 653.6,429 654.6,429.2 655.6,429.4 656.6,429.6 657.6,429.8 658.6,430.1 659.6,430.4 660.6,430.6 661.6,430.9 662.6,431.1 663.6,431.3 664.6,431.4 665.6,431.3 666.6,431.1 667.6,430.7 668.6,430.4 669.6,430.3 670.6,430.4 671.6,430.6 672.6,430.9 673.6,431.2 674.6,431.4 675.6,431.4 676.6,431.3 677.6,431 678.6,430.7 679.6,430.5 680.6,430.5 681.6,430.5 682.5,430.5" fill="none" stroke="#16a34a" stroke-width="2.8" stroke-linejoin="round" stroke-linecap="butt"/>
</g>
<line id="xaxis" x1="43" y1="438.5" x2="683" y2="438.5" stroke="#c6c9c7" stroke-width="1" shape-rendering="crispEdges"/>
<g id="ylab" letter-spacing="0.7">
<text x="693.4" y="180.7">80</text>
<text x="693.4" y="246.7">60</text>
<text x="693.4" y="311.7">40</text>
<text x="693.4" y="376.7">20</text>
<text x="693.4" y="441.7">0</text>
</g>
<g id="xlab" text-anchor="middle" font-size="12.2">
<text x="43.1" y="459.9">01/10</text>
<text x="173.4" y="459.9">03/26</text>
<text x="304" y="459.9">06/09</text>
<text x="434.5" y="459.9">08/21</text>
<text x="565" y="459.9">11/03</text>
</g>
</svg>
</body>
</html>
